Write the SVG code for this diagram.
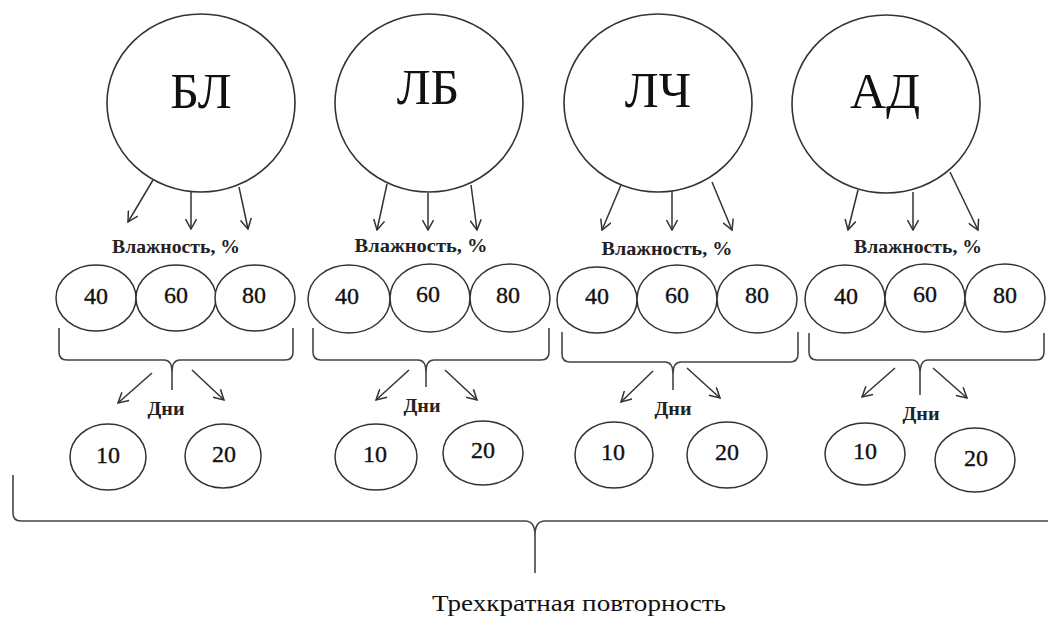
<svg xmlns="http://www.w3.org/2000/svg" width="1048" height="617" viewBox="0 0 1048 617">
<style>
.big{fill:#fff;stroke:#333;stroke-width:1.6}
.sm{fill:#fff;stroke:#333;stroke-width:1.5}
text{font-family:"Liberation Serif","DejaVu Serif","Times New Roman",serif}
.lt{font-size:50px;fill:#111;text-anchor:middle}
.num{font-size:24px;fill:#111;stroke:#111;stroke-width:0.35;text-anchor:middle}
.lbl{font-size:19px;font-weight:bold;fill:#222;text-anchor:middle}
.cap{font-size:24px;fill:#111;text-anchor:start}
.ar{stroke:#333;stroke-width:1.5;fill:none;marker-end:url(#ah)}
.br{stroke:#444;stroke-width:1.6;fill:none}
</style>
<defs>
<marker id="ah" viewBox="0 0 12 12" refX="11" refY="6" markerWidth="12" markerHeight="12" markerUnits="userSpaceOnUse" orient="auto">
<path d="M1,0.5 L11,6 L1,11.5" fill="none" stroke="#333" stroke-width="1.5"/>
</marker>
</defs>

<g id="node-BL">
<ellipse class="big" cx="201" cy="103" rx="94" ry="89"/>
<text class="lt" x="201" y="108">БЛ</text>
</g>
<g id="node-LB">
<ellipse class="big" cx="429" cy="103" rx="94" ry="89"/>
<text class="lt" x="428" y="104">ЛБ</text>
</g>
<g id="node-LCh">
<ellipse class="big" cx="658" cy="103" rx="94" ry="89"/>
<text class="lt" x="658" y="107">ЛЧ</text>
</g>
<g id="node-AD">
<ellipse class="big" cx="886" cy="104" rx="94" ry="89"/>
<text class="lt" x="885" y="108">АД</text>
</g>

<g id="labels">
<text class="lbl" x="176" y="253" textLength="128" lengthAdjust="spacingAndGlyphs">Влажность, %</text>
<text class="lbl" x="421" y="252" textLength="133" lengthAdjust="spacingAndGlyphs">Влажность, %</text>
<text class="lbl" x="667" y="255" textLength="131" lengthAdjust="spacingAndGlyphs">Влажность, %</text>
<text class="lbl" x="918" y="253" textLength="128" lengthAdjust="spacingAndGlyphs">Влажность, %</text>
<text class="lbl" x="166" y="415" textLength="37" lengthAdjust="spacingAndGlyphs">Дни</text>
<text class="lbl" x="422" y="412" textLength="37" lengthAdjust="spacingAndGlyphs">Дни</text>
<text class="lbl" x="673" y="415" textLength="37" lengthAdjust="spacingAndGlyphs">Дни</text>
<text class="lbl" x="921" y="420" textLength="37" lengthAdjust="spacingAndGlyphs">Дни</text>
<text class="cap" x="432" y="611" textLength="294" lengthAdjust="spacingAndGlyphs">Трехкратная повторность</text>
</g>

<g id="hum-BL">
<ellipse class="sm" cx="96" cy="298" rx="40" ry="33"/>
<text class="num" x="96" y="304">40</text>
<ellipse class="sm" cx="176" cy="298" rx="40" ry="33"/>
<text class="num" x="176" y="303">60</text>
<ellipse class="sm" cx="255" cy="298" rx="40" ry="33"/>
<text class="num" x="254" y="303">80</text>
</g>
<g id="hum-LB">
<ellipse class="sm" cx="349" cy="299" rx="41" ry="34"/>
<text class="num" x="347" y="304">40</text>
<ellipse class="sm" cx="430" cy="298" rx="40" ry="34"/>
<text class="num" x="428" y="302">60</text>
<ellipse class="sm" cx="510" cy="298" rx="40" ry="34"/>
<text class="num" x="508" y="303">80</text>
</g>
<g id="hum-LCh">
<ellipse class="sm" cx="597" cy="300" rx="40" ry="33"/>
<text class="num" x="597" y="304">40</text>
<ellipse class="sm" cx="677" cy="299" rx="40" ry="34"/>
<text class="num" x="677" y="303">60</text>
<ellipse class="sm" cx="757" cy="299" rx="40" ry="34"/>
<text class="num" x="757" y="303">80</text>
</g>
<g id="hum-AD">
<ellipse class="sm" cx="845" cy="299" rx="40" ry="34"/>
<text class="num" x="846" y="304">40</text>
<ellipse class="sm" cx="925" cy="298" rx="40" ry="34"/>
<text class="num" x="925" y="302">60</text>
<ellipse class="sm" cx="1005" cy="298" rx="40" ry="34"/>
<text class="num" x="1005" y="303">80</text>
</g>

<g id="days-BL">
<ellipse class="sm" cx="108" cy="457" rx="38" ry="33"/>
<text class="num" x="108" y="463">10</text>
<ellipse class="sm" cx="223" cy="456" rx="38" ry="32"/>
<text class="num" x="224" y="462">20</text>
</g>
<g id="days-LB">
<ellipse class="sm" cx="376" cy="457" rx="41" ry="33"/>
<text class="num" x="375" y="462">10</text>
<ellipse class="sm" cx="483" cy="453" rx="40" ry="32"/>
<text class="num" x="483" y="458">20</text>
</g>
<g id="days-LCh">
<ellipse class="sm" cx="614" cy="455" rx="39" ry="33"/>
<text class="num" x="613" y="460">10</text>
<ellipse class="sm" cx="727" cy="455" rx="40" ry="33"/>
<text class="num" x="727" y="460">20</text>
</g>
<g id="days-AD">
<ellipse class="sm" cx="865" cy="454" rx="40" ry="31"/>
<text class="num" x="865" y="459">10</text>
<ellipse class="sm" cx="975" cy="460" rx="40" ry="32"/>
<text class="num" x="976" y="466">20</text>
</g>

<g id="connectors">
<line class="ar" x1="153" y1="180" x2="128" y2="222"/>
<line class="ar" x1="191" y1="191" x2="191" y2="229"/>
<line class="ar" x1="239" y1="187" x2="248" y2="229"/>
<line class="ar" x1="387" y1="184" x2="377" y2="230"/>
<line class="ar" x1="428" y1="193" x2="428" y2="230"/>
<line class="ar" x1="471" y1="185" x2="477" y2="230"/>
<line class="ar" x1="621" y1="185" x2="602" y2="230"/>
<line class="ar" x1="672" y1="191" x2="672" y2="230"/>
<line class="ar" x1="712" y1="182" x2="732" y2="230"/>
<line class="ar" x1="858" y1="190" x2="848" y2="230"/>
<line class="ar" x1="913" y1="192" x2="913" y2="230"/>
<line class="ar" x1="950" y1="172" x2="978" y2="230"/>

<line class="ar" x1="152" y1="373" x2="118" y2="403"/>
<line class="ar" x1="192" y1="370" x2="224" y2="400"/>
<line class="ar" x1="409" y1="370" x2="376" y2="400"/>
<line class="ar" x1="445" y1="370" x2="477" y2="400"/>
<line class="ar" x1="653" y1="371" x2="621" y2="402"/>
<line class="ar" x1="687" y1="368" x2="720" y2="398"/>
<line class="ar" x1="895" y1="368" x2="862" y2="397"/>
<line class="ar" x1="933" y1="368" x2="967" y2="398"/>

<path class="br" d="M59,328 V352 Q59,360 67,360 H164 Q172,360 172,372 V390 M172,372 Q172,360 180,360 H285 Q293,360 293,352 V328"/>
<path class="br" d="M313,328 V352 Q313,360 321,360 H418 Q426,360 426,372 V387 M426,372 Q426,360 434,360 H541 Q549,360 549,352 V328"/>
<path class="br" d="M562,332 V354 Q562,362 570,362 H665 Q673,362 673,374 V390 M673,374 Q673,362 681,362 H790 Q798,362 798,354 V332"/>
<path class="br" d="M809,333 V352 Q809,360 817,360 H912 Q920,360 920,374 V395 M920,374 Q920,360 928,360 H1036 Q1044,360 1044,352 V333"/>
<path class="br" d="M13,475 V513 Q13,521 21,521 H525 Q535,521 535,535 V573 M535,535 Q535,521 545,521 H1048"/>
</g>
</svg>
